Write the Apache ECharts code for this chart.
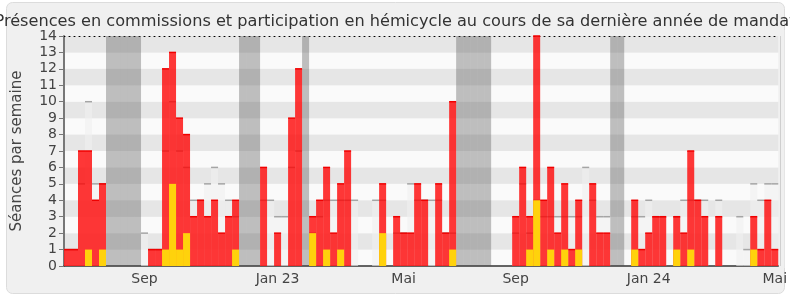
<!DOCTYPE html>
<html><head><meta charset="utf-8">
<script src="https://cdn.jsdelivr.net/npm/echarts@6/dist/echarts.min.js"></script>
<style>html,body{margin:0;padding:0;background:#fff}#c{width:790px;height:300px}</style>
</head><body><div id="c"></div>
<script>
// Weekly values (one entry per week)
const hemicycle = [1,1,7,7,4,5,0,0,0,0,0,0,1,1,12,13,9,8,3,4,3,4,2,3,4,0,0,0,6,0,2,0,9,12,0,3,4,6,2,5,7,0,0,0,0,5,0,3,2,2,5,4,0,5,2,10,0,0,0,0,0,0,0,0,3,6,3,14,4,6,2,5,1,4,0,5,2,2,0,0,0,4,1,2,3,3,0,3,2,7,4,3,0,3,0,0,0,0,3,1,4,1];
const commissions = [0,0,0,1,0,1,0,0,0,0,0,0,0,0,1,5,1,2,0,0,0,0,0,0,1,0,0,0,0,0,0,0,0,0,0,2,0,1,0,1,0,0,0,0,0,2,0,0,0,0,0,0,0,0,0,1,0,0,0,0,0,0,0,0,0,0,1,4,0,1,0,1,0,1,0,0,0,0,0,0,0,1,0,0,0,0,0,1,0,1,0,0,0,0,0,0,0,0,1,0,0,0];
const mediane = [1,1,5,10,5,5,0,0,0,0,0,2,1,1,7,10,7,6,4,4,5,6,5,4,3,0,0,0,4,4,3,3,6,7,0,2,3,4,4,4,4,4,0,0,4,4,0,2,2,5,4,4,4,4,2,2,0,0,0,0,0,0,0,0,2,5,2,4,3,3,3,3,3,3,6,4,3,3,0,0,0,3,3,4,3,3,0,3,4,4,4,4,0,4,0,0,3,1,5,4,5,5];
const vacances = [0,0,0,0,0,0,1,1,1,1,1,0,0,0,0,0,0,0,0,0,0,0,0,0,0,1,1,1,0,0,0,0,0,0,1,0,0,0,0,0,0,0,0,0,0,0,0,0,0,0,0,0,0,0,0,0,1,1,1,1,1,0,0,0,0,0,0,0,0,0,0,0,0,0,0,0,0,0,1,1,0,0,0,0,0,0,0,0,0,0,0,0,0,0,0,0,0,0,0,0,0,0];
const labelWeeks = [11,30,48,64,83,101];
const labelNames = ['Sep','Jan 23','Mai','Sep','Jan 24','Mai'];
const yMax = 14;

const weeks = hemicycle.map((_, i) => String(i));
const tickLabels = weeks.map(() => '');
labelWeeks.forEach((w, k) => { tickLabels[w] = labelNames[k]; });

function barRenderer(fill, topColor, topWidth) {
  return function (params, api) {
    const i = api.value(0), v = api.value(1);
    if (!v) return null;
    const p0 = api.coord([i, 0]);
    const p1 = api.coord([i, v]);
    const w = api.size([1, 0])[0];
    const children = [{type:'rect', shape:{x:p0[0]-w/2, y:p1[1], width:w, height:p0[1]-p1[1]}, style:{fill:fill}}];
    if (topColor) children.push({type:'line', shape:{x1:p0[0]-w/2, y1:p1[1], x2:p0[0]+w/2, y2:p1[1]}, style:{stroke:topColor, lineWidth:topWidth}});
    return {type:'group', children};
  };
}

const chart = echarts.init(document.getElementById('c'), null, {renderer:'canvas'});
chart.setOption({
  backgroundColor: 'transparent',
  animation: false,
  textStyle: {fontFamily: 'DejaVu Sans'},
  graphic: [
    {type:'rect', z:-10, shape:{x:6.5, y:2.5, width:778, height:291, r:6}, style:{fill:'#f0f0f0', stroke:'#dcdcdc', lineWidth:1}},
    {type:'rect', z:100, shape:{x:780, y:30, width:4.5, height:238}, style:{fill:'#f0f0f0'}},
    {type:'line', z:101, shape:{x1:780.5, y1:36, x2:780.5, y2:266}, style:{stroke:'#cfcfcf', lineWidth:1}}
  ],
  title: {text: 'Présences en commissions et participation en hémicycle au cours de sa dernière année de mandat',
          left: 'center', top: 9, textStyle:{fontFamily:'DejaVu Sans', fontSize:16.15, fontWeight:'normal', color:'#333'}},
  grid: {left: 64, right: 6, top: 36, bottom: 34},
  xAxis: [{type:'category', data: weeks, boundaryGap: true,
           axisLine:{lineStyle:{color:'#333', width:1.5}}, axisTick:{show:false},
           axisLabel:{interval:0, color:'#444', fontSize:14, fontFamily:'DejaVu Sans', margin:6, formatter:(v, idx) => tickLabels[idx]},
           splitLine:{show:false}},
          {type:'category', data: weeks, position:'top', axisLine:{show:true, lineStyle:{color:'#000', type:[1,4], width:1}},
           axisTick:{show:false}, axisLabel:{show:false}}],
  yAxis: {type:'value', min:0, max:yMax, interval:1, name:'Séances par semaine', nameLocation:'middle', nameGap:39,
          nameTextStyle:{fontSize:15, color:'#444', fontFamily:'DejaVu Sans'},
          axisLine:{show:true, lineStyle:{color:'#777', width:2}}, axisTick:{show:true, length:5, lineStyle:{color:'#777'}},
          axisLabel:{color:'#444', fontSize:14, fontFamily:'DejaVu Sans', margin:7},
          splitLine:{show:false}, splitArea:{show:true, areaStyle:{color:['#fafafa','#e6e6e6']}}},
  series: [
    {type:'custom', name:'vacances', z:1, renderItem: barRenderer('rgba(76,76,76,0.35)', null, 0),
     data: vacances.map((v, i) => [i, v ? yMax : 0])},
    {type:'custom', name:'médiane', z:2, renderItem: barRenderer('rgba(240,240,240,0.6)', '#a5a5a5', 1.5),
     data: mediane.map((v, i) => [i, v])},
    {type:'custom', name:'hémicycle', z:3, renderItem: barRenderer('rgba(255,0,0,0.78)', '#f00000', 1.5),
     data: hemicycle.map((v, i) => [i, v])},
    {type:'custom', name:'commissions', z:4, renderItem: barRenderer('#ffd20c', null, 0),
     data: commissions.map((v, i) => [i, v])}
  ]
});
</script></body></html>
